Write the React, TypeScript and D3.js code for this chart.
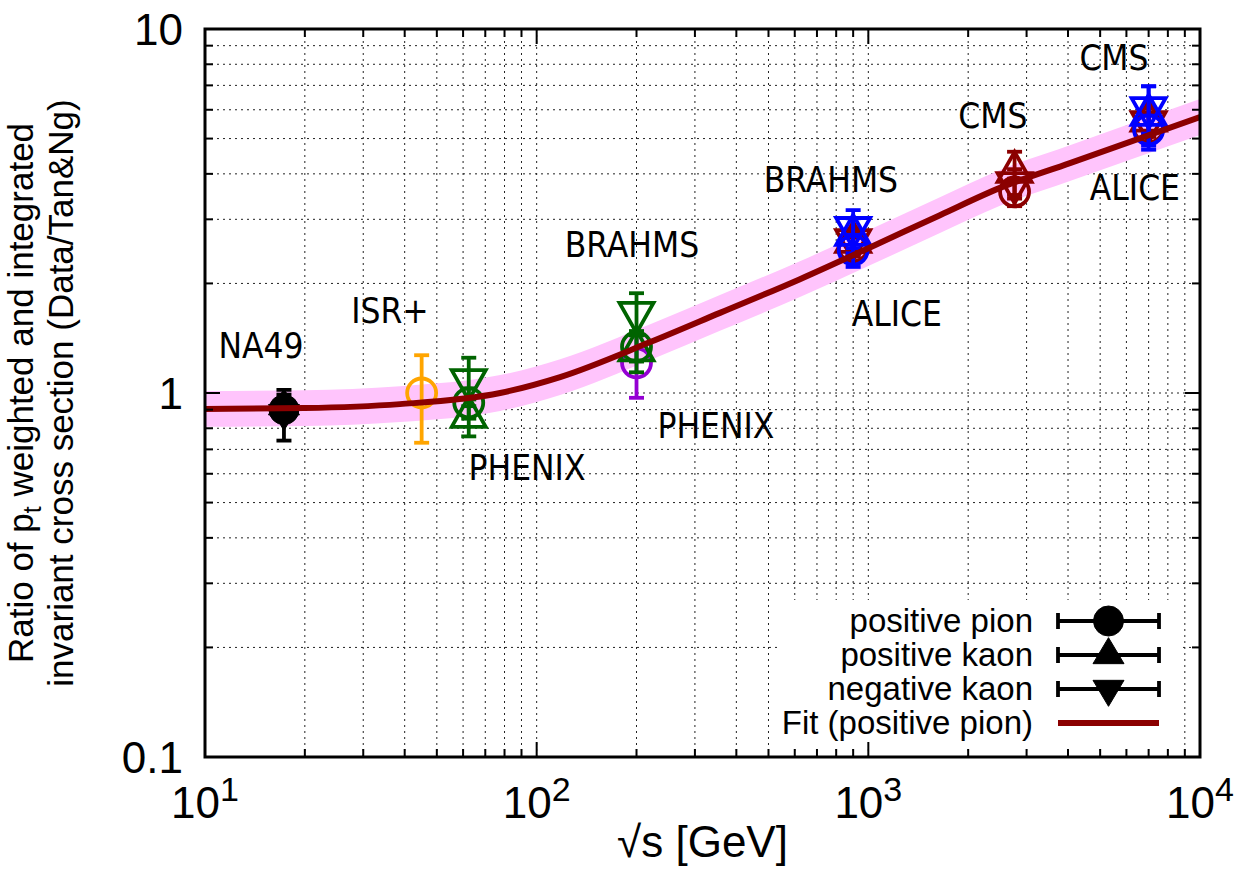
import React from "react";
import * as d3 from "d3";

const W = 1239;
const H = 871;
const PLOT = { left: 205, right: 1200, top: 29, bottom: 757 };

// Measured ratios per data set (sqrt(s) in GeV)
const experiment = ["NA49", "ISR+", "PHENIX", "PHENIX", "BRAHMS", "CMS", "ALICE", "CMS", "CMS", "ALICE"];
const sqrtS = [17.3, 45, 62.4, 200, 200, 900, 900, 2760, 7000, 7000];
const pionRatio = [0.9, 1.0, 0.94, 1.21, 1.34, 2.52, 2.47, 3.57, 5.35, 5.28];
const pionErr = [0.05, 0.27, 0.09, 0.24, 0.12, 0.15, 0.25, 0.31, 0.45, 0.5];
const kPlusRatio: (number | null)[] = [0.92, null, 0.86, null, 1.31, 2.6, 2.72, 4.05, 5.6, 5.81];
const kPlusErr: (number | null)[] = [0.07, null, 0.1, null, 0.17, 0.2, 0.3, 0.55, 0.5, 1.15];
const kMinusRatio: (number | null)[] = [0.88, null, 1.085, null, 1.66, 2.63, 2.84, 3.77, 5.55, 6.06];
const kMinusErr: (number | null)[] = [0.14, null, 0.165, null, 0.22, 0.2, 0.34, 0.35, 0.5, 0.9];

// Marker colours, one per data set
const pointColor = ["#000000", "#ffa500", "#006400", "#9400d3", "#006400", "#8b0000", "#0000ff", "#8b0000", "#8b0000", "#0000ff"];
const pointFilled = [true, false, false, false, false, false, false, false, false, false];

// Fit to the positive pion ratio, sampled along sqrt(s)
const fitSqrtS = [10, 20, 38.7, 77.6, 117.7, 220, 357, 622, 1000, 1644, 2494, 4054, 10000];
const fitRatio = [0.904, 0.909, 0.932, 1.0, 1.106, 1.38, 1.66, 2.055, 2.5, 3.08, 3.66, 4.28, 5.73];
const fitBandRel = 0.12;

// Experiment labels placed in data coordinates
const labelText = ["NA49", "ISR+", "PHENIX", "BRAHMS", "PHENIX", "BRAHMS", "ALICE", "CMS", "CMS", "ALICE"];
const labelSqrtS = [14.75, 36.1, 93.5, 193.8, 347, 771, 1219, 2375, 5503, 6364];
const labelRatio = [1.248, 1.557, 0.577, 2.364, 0.752, 3.566, 1.528, 5.346, 7.72, 3.39];

const legendLabels = ["positive pion", "positive kaon", "negative kaon", "Fit (positive pion)"];
const xTickExponents = [1, 2, 3, 4];
const yTickValues = [0.1, 1, 10];
const yTickLabels = ["0.1", "1", "10"];

const SANS = "'Liberation Sans', Arial, Helvetica, sans-serif";
const LABEL_FONT = "'DejaVu Sans Condensed', 'DejaVu Sans', sans-serif";
const FIT_COLOR = "#8b0000";
const BAND_COLOR = "#ffc4fc";

const x = d3.scaleLog().domain([10, 1e4]).range([PLOT.left, PLOT.right]);
const y = d3.scaleLog().domain([0.1, 10]).range([PLOT.bottom, PLOT.top]);

const CIRCLE_R = 14.5;
const TRI_W = 17;
const TRI_H = 30;
const CAP = 7.5;
const LW = 3.8;

type Kind = "circle" | "up" | "down";

function Marker({ kind, cx, cy, color, filled }: { kind: Kind; cx: number; cy: number; color: string; filled: boolean }) {
  const fill = filled ? color : "none";
  const sw = filled ? 1 : LW;
  if (kind === "circle") {
    return <circle cx={cx} cy={cy} r={filled ? 15 : CIRCLE_R} fill={fill} stroke={color} strokeWidth={sw} />;
  }
  const w = filled ? 15.5 : TRI_W;
  const h = filled ? 26 : TRI_H;
  const pts =
    kind === "up"
      ? [
          [cx, cy - (2 * h) / 3],
          [cx - w, cy + h / 3],
          [cx + w, cy + h / 3],
        ]
      : [
          [cx, cy + (2 * h) / 3],
          [cx - w, cy - h / 3],
          [cx + w, cy - h / 3],
        ];
  return (
    <polygon
      points={pts.map((p) => p.join(",")).join(" ")}
      fill={fill}
      stroke={color}
      strokeWidth={sw}
      strokeLinejoin="miter"
    />
  );
}

function ErrorBar({ cx, v, e, color }: { cx: number; v: number; e: number; color: string }) {
  const y1 = y(v + e);
  const y0 = y(v - e);
  return (
    <g stroke={color} strokeWidth={LW}>
      <line x1={cx} x2={cx} y1={y0} y2={y1} />
      <line x1={cx - CAP} x2={cx + CAP} y1={y0} y2={y0} />
      <line x1={cx - CAP} x2={cx + CAP} y1={y1} y2={y1} />
    </g>
  );
}

export default function App() {
  const allXTicks = x.ticks();
  const allYTicks = y.ticks();
  const xMajor = xTickExponents.map((e) => 10 ** e);
  const isMajorX = (v: number) => xMajor.some((m) => Math.abs(v / m - 1) < 1e-9);
  const isMajorY = (v: number) => yTickValues.some((m) => Math.abs(v / m - 1) < 1e-9);
  const xGrid = allXTicks.filter((v) => v > 10 * 1.0001 && v < 1e4 * 0.9999);
  const yGrid = allYTicks.filter((v) => v > 0.1 * 1.0001 && v < 10 * 0.9999);

  const fitIdx = fitSqrtS.map((_, i) => i);
  const fitLine = d3
    .line<number>()
    .x((i) => x(fitSqrtS[i]))
    .y((i) => y(fitRatio[i]))
    .curve(d3.curveMonotoneX)(fitIdx) as string;
  const fitBand = d3
    .area<number>()
    .x((i) => x(fitSqrtS[i]))
    .y0((i) => y(fitRatio[i] / (1 + fitBandRel)))
    .y1((i) => y(fitRatio[i] * (1 + fitBandRel)))
    .curve(d3.curveMonotoneX)(fitIdx) as string;

  const kinds: Kind[] = ["circle", "up", "down"];
  const legendRowY = [621, 655, 689, 723];
  const legendTextRight = 1033;
  const legendSampleX0 = 1058;
  const legendSampleX1 = 1159;
  const legendMarkerX = (legendSampleX0 + legendSampleX1) / 2;

  return (
    <svg
      width={W}
      height={H}
      viewBox={`0 0 ${W} ${H}`}
      style={{ position: "absolute", left: 0, top: 0, background: "#ffffff" }}
    >
      <defs>
        <clipPath id="plot-clip">
          <rect x={PLOT.left} y={PLOT.top} width={PLOT.right - PLOT.left} height={PLOT.bottom - PLOT.top} />
        </clipPath>
      </defs>
      <rect x={0} y={0} width={W} height={H} fill="#ffffff" />

      {/* dotted grid at every major and minor tick */}
      <g stroke="#222" strokeWidth={1} strokeDasharray="2,4">
        {xGrid.map((v, i) => (
          <line key={`gx${i}`} x1={x(v)} x2={x(v)} y1={PLOT.top} y2={PLOT.bottom} />
        ))}
        {yGrid.map((v, i) => (
          <line key={`gy${i}`} x1={PLOT.left} x2={PLOT.right} y1={y(v)} y2={y(v)} />
        ))}
      </g>

      {/* legend background */}
      <rect x={781} y={600} width={398} height={145} fill="#ffffff" />

      {/* fit uncertainty band */}
      <g clipPath="url(#plot-clip)">
        <path d={fitBand} fill={BAND_COLOR} stroke="none" />
      </g>

      {/* data points */}
      {sqrtS.map((s, i) => {
        const cx = x(s);
        const color = pointColor[i];
        const filled = pointFilled[i];
        const vals = [pionRatio[i], kPlusRatio[i], kMinusRatio[i]];
        const errs = [pionErr[i], kPlusErr[i], kMinusErr[i]];
        return (
          <g key={`pt${i}`} data-experiment={experiment[i]}>
            {vals.map((v, k) =>
              v == null ? null : <ErrorBar key={`e${k}`} cx={cx} v={v} e={errs[k] as number} color={color} />
            )}
            {vals.map((v, k) =>
              v == null ? null : (
                <Marker key={`m${k}`} kind={kinds[k]} cx={cx} cy={y(v)} color={color} filled={filled} />
              )
            )}
          </g>
        );
      })}

      {/* fit curve */}
      <g clipPath="url(#plot-clip)">
        <path d={fitLine} fill="none" stroke={FIT_COLOR} strokeWidth={6} strokeLinejoin="round" />
      </g>

      {/* experiment labels */}
      <g fontFamily={LABEL_FONT} fontSize={35} fill="#000" style={{ fontStretch: "condensed" }}>
        {labelText.map((t, i) => (
          <text key={`lab${i}`} x={x(labelSqrtS[i])} y={y(labelRatio[i])} textAnchor="middle">
            {t}
          </text>
        ))}
      </g>

      {/* legend */}
      <g fontFamily={SANS} fontSize={33} fill="#000">
        {legendLabels.map((t, i) => (
          <text key={`lt${i}`} x={legendTextRight} y={legendRowY[i] + 11} textAnchor="end">
            {t}
          </text>
        ))}
      </g>
      {kinds.map((k, i) => (
        <g key={`ls${i}`} stroke="#000" strokeWidth={LW}>
          <line x1={legendSampleX0} x2={legendSampleX1} y1={legendRowY[i]} y2={legendRowY[i]} />
          <line x1={legendSampleX0} x2={legendSampleX0} y1={legendRowY[i] - 8} y2={legendRowY[i] + 8} />
          <line x1={legendSampleX1} x2={legendSampleX1} y1={legendRowY[i] - 8} y2={legendRowY[i] + 8} />
          <Marker kind={k} cx={legendMarkerX} cy={legendRowY[i]} color="#000" filled={true} />
        </g>
      ))}
      <line
        x1={legendSampleX0}
        x2={legendSampleX1}
        y1={legendRowY[3]}
        y2={legendRowY[3]}
        stroke={FIT_COLOR}
        strokeWidth={6}
      />

      {/* ticks on all four sides */}
      <g stroke="#000" strokeWidth={2}>
        {allXTicks.map((v, i) => {
          const len = isMajorX(v) ? 15 : 8;
          const px = x(v);
          return (
            <g key={`tx${i}`}>
              <line x1={px} x2={px} y1={PLOT.bottom} y2={PLOT.bottom - len} />
              <line x1={px} x2={px} y1={PLOT.top} y2={PLOT.top + len} />
            </g>
          );
        })}
        {allYTicks.map((v, i) => {
          const len = isMajorY(v) ? 15 : 8;
          const py = y(v);
          return (
            <g key={`ty${i}`}>
              <line x1={PLOT.left} x2={PLOT.left + len} y1={py} y2={py} />
              <line x1={PLOT.right} x2={PLOT.right - len} y1={py} y2={py} />
            </g>
          );
        })}
      </g>

      {/* frame */}
      <rect
        x={PLOT.left}
        y={PLOT.top}
        width={PLOT.right - PLOT.left}
        height={PLOT.bottom - PLOT.top}
        fill="none"
        stroke="#000"
        strokeWidth={3}
      />

      {/* tick labels */}
      <g fontFamily={SANS} fontSize={44} fill="#000">
        {yTickValues.map((v, i) => (
          <text key={`yl${i}`} x={183} y={y(v) + 16} textAnchor="end">
            {yTickLabels[i]}
          </text>
        ))}
        {xTickExponents.map((e, i) => (
          <text key={`xl${i}`} x={x(10 ** e)} y={818} textAnchor="middle">
            10
            <tspan fontSize={34} dy={-17}>
              {String(e)}
            </tspan>
          </text>
        ))}
      </g>

      {/* axis titles */}
      <text
        x={(PLOT.left + PLOT.right) / 2}
        y={857}
        textAnchor="middle"
        fontFamily={SANS}
        fontSize={44}
        fill="#000"
      >
        √s [GeV]
      </text>
      <g fontFamily={SANS} fontSize={35} fill="#000">
        <text transform={`translate(33,${(PLOT.top + PLOT.bottom) / 2}) rotate(-90)`} textAnchor="middle">
          Ratio of p
          <tspan fontSize={25} dy={8}>
            t
          </tspan>
          <tspan dy={-8}> weighted and integrated</tspan>
        </text>
        <text transform={`translate(73,${(PLOT.top + PLOT.bottom) / 2}) rotate(-90)`} textAnchor="middle">
          invariant cross section (Data/Tan&amp;Ng)
        </text>
      </g>
    </svg>
  );
}
